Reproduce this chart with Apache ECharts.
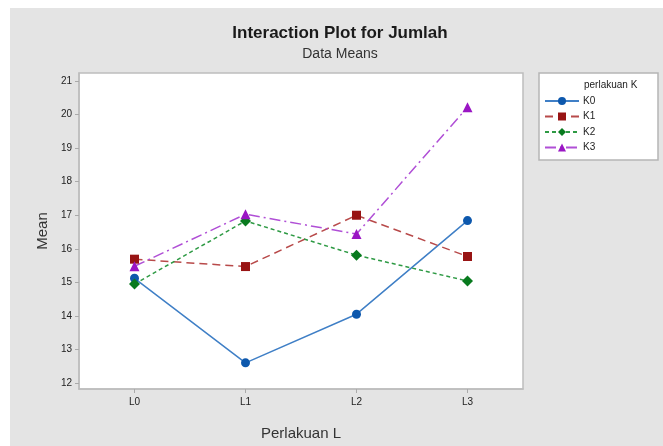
<!DOCTYPE html>
<html>
<head>
<meta charset="utf-8">
<script src="https://cdn.jsdelivr.net/npm/echarts@6/dist/echarts.min.js"></script>
<style>
html,body{margin:0;padding:0;background:#ffffff;}
#bg{position:absolute;left:10px;top:8px;width:653px;height:438px;background:#e4e4e4;}
#chart{position:absolute;left:0;top:0;width:663px;height:446px;}
</style>
</head>
<body>
<div id="bg"></div>
<div id="chart"></div>
<script>
const categories = ['L0', 'L1', 'L2', 'L3'];
const seriesNames = ['K0', 'K1', 'K2', 'K3'];
const K0 = [15.12, 12.60, 14.05, 16.84];
const K1 = [15.69, 15.47, 17.00, 15.77];
const K2 = [14.95, 16.83, 15.81, 15.04];
const K3 = [15.48, 17.03, 16.44, 20.22];
const yTicks = [12, 13, 14, 15, 16, 17, 18, 19, 20, 21];

const styles = [
  {line: '#3f7fc6', mark: '#0d58ad', type: 'solid', symbol: 'circle', size: 9},
  {line: '#b84a4a', mark: '#981414', type: [8, 5], symbol: 'rect', size: 9},
  {line: '#2e9a44', mark: '#087a1e', type: [4, 3], symbol: 'diamond', size: 11},
  {line: '#b04fd6', mark: '#9a16c4', type: [11, 4, 2, 4], symbol: 'triangle', size: 10}
];
const values = [K0, K1, K2, K3];

const chart = echarts.init(document.getElementById('chart'), null, {renderer: 'canvas'});
const font = 'Liberation Sans, Arial, sans-serif';
chart.setOption({
  backgroundColor: 'transparent',
  animation: false,
  textStyle: {fontFamily: font},
  title: {
    text: 'Interaction Plot for Jumlah',
    subtext: 'Data Means',
    left: 335,
    top: 20,
    textAlign: 'center',
    itemGap: 5,
    textStyle: {fontSize: 17, fontWeight: 'bold', color: '#1a1a1a', fontFamily: font},
    subtextStyle: {fontSize: 14, color: '#333', fontFamily: font}
  },
  grid: {
    left: 79, right: 140, top: 73, bottom: 57,
    show: true, backgroundColor: '#ffffff', borderColor: '#bdbdbd', borderWidth: 1.5
  },
  graphic: [
    {type: 'rect', shape: {x: 539, y: 73, width: 119, height: 87},
     style: {fill: '#ffffff', stroke: '#b5b5b5', lineWidth: 1.5}, z: 0},
    {type: 'text', left: 584, top: 80,
     style: {text: 'perlakuan K', fontSize: 10, fill: '#222', fontFamily: font}, z: 5}
  ],
  legend: {
    orient: 'vertical',
    left: 544, top: 96,
    itemWidth: 34, itemHeight: 10, itemGap: 5.5,
    padding: 0,
    textStyle: {fontSize: 10, color: '#222', fontFamily: font, padding: [0, 0, 0, -1]},
    data: seriesNames
  },
  xAxis: {
    type: 'category',
    data: categories,
    boundaryGap: true,
    name: 'Perlakuan L',
    nameLocation: 'middle',
    nameGap: 37,
    nameTextStyle: {fontSize: 15, color: '#333'},
    axisLine: {show: true, lineStyle: {color: '#bdbdbd', width: 1.5}},
    axisTick: {show: true, alignWithLabel: true, length: 4, lineStyle: {color: '#aaa'}},
    axisLabel: {fontSize: 10, color: '#222', margin: 8},
    splitLine: {show: false}
  },
  yAxis: {
    type: 'value',
    min: 11.82, max: 21.24,
    name: 'Mean',
    nameLocation: 'middle',
    nameGap: 28,
    nameTextStyle: {fontSize: 15, color: '#333'},
    axisLine: {show: true, lineStyle: {color: '#bdbdbd', width: 1.5}},
    axisTick: {show: true, length: 4, lineStyle: {color: '#aaa'}, customValues: yTicks},
    axisLabel: {fontSize: 10, color: '#222', margin: 7, customValues: yTicks},
    splitLine: {show: false}
  },
  series: seriesNames.map((n, i) => ({
    name: n,
    type: 'line',
    data: values[i],
    symbol: styles[i].symbol,
    symbolSize: styles[i].size,
    lineStyle: {color: styles[i].line, width: 1.5, type: styles[i].type},
    itemStyle: {color: styles[i].mark},
    z: 3
  }))
});
</script>
</body>
</html>
